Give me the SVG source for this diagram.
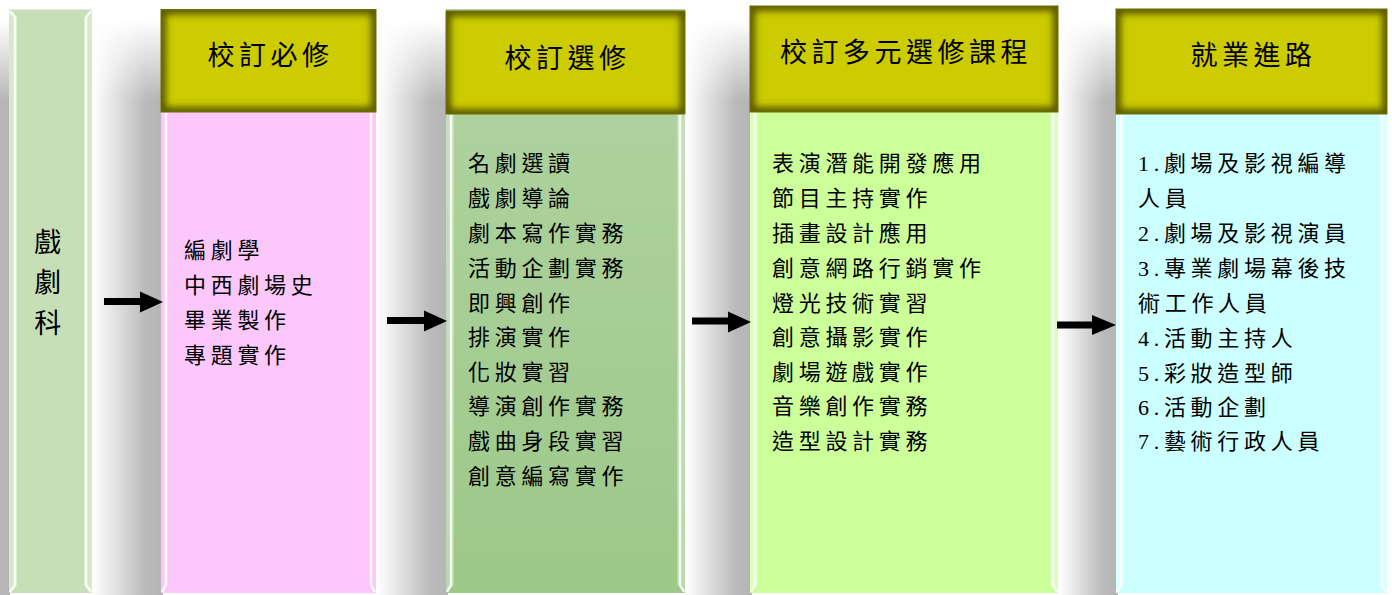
<svg xmlns="http://www.w3.org/2000/svg" width="1392" height="595" viewBox="0 0 1392 595">
<defs>
<linearGradient id="shadow" x1="0" y1="0" x2="1" y2="0">
<stop offset="0" stop-color="#ffffff"/>
<stop offset="0.75" stop-color="#bababa"/>
<stop offset="1" stop-color="#b5b5b5"/>
</linearGradient>
<linearGradient id="topfade" x1="0" y1="0" x2="0" y2="1">
<stop offset="0" stop-color="#ffffff" stop-opacity="1"/>
<stop offset="0.2" stop-color="#ffffff" stop-opacity="1"/>
<stop offset="1" stop-color="#ffffff" stop-opacity="0"/>
</linearGradient>
<linearGradient id="g3" x1="0" y1="0" x2="0" y2="1">
<stop offset="0" stop-color="#b2d4a2"/>
<stop offset="1" stop-color="#9cc889"/>
</linearGradient>
<filter id="blur" x="-20%" y="-30%" width="140%" height="160%">
<feGaussianBlur stdDeviation="3.5"/>
</filter>
<clipPath id="c2"><rect x="161" y="9.5" width="215" height="102.5"/></clipPath>
<clipPath id="c3"><rect x="446" y="11" width="239" height="103"/></clipPath>
<clipPath id="c4"><rect x="750" y="6" width="308" height="106"/></clipPath>
<clipPath id="c5"><rect x="1116" y="9" width="271" height="105"/></clipPath>
</defs>
<style>
.hdr{fill:#cccc00}
.hin{fill:none;stroke:#4a4a00;stroke-width:10;stroke-opacity:0.9}
.hline{fill:none;stroke:#6f6f00;stroke-width:1}
.ht{font-family:"Liberation Serif","Noto Sans CJK TC",serif;font-size:27px;letter-spacing:4.5px;fill:#000;text-anchor:middle}
.bt{font-family:"Liberation Serif","Noto Sans CJK TC",serif;font-size:22px;letter-spacing:4.7px;fill:#000}
.bev{fill:none;stroke:#ffffff;stroke-width:2.5;stroke-opacity:0.85}
.bevs{fill:#ffffff;fill-opacity:0.3}
.arr{stroke:#000;stroke-width:7;fill:none}
</style>
<rect width="1392" height="595" fill="#ffffff"/>
<g id="shadows">
<rect x="-60" y="20" width="70" height="575" fill="url(#shadow)"/>
<rect x="93" y="20" width="70" height="575" fill="url(#shadow)"/>
<rect x="378" y="20" width="70" height="575" fill="url(#shadow)"/>
<rect x="686" y="20" width="66" height="575" fill="url(#shadow)"/>
<rect x="1059" y="20" width="59" height="575" fill="url(#shadow)"/>
<rect x="0" y="0" width="1392" height="100" fill="url(#topfade)"/>
</g>
<g id="node-dept">
<rect x="9" y="9.5" width="83" height="583.5" fill="#c6dfb6"/>
<path class="bevs" d="M9,9.5 L17,17.5 L17,585 L9,593 Z M92,9.5 L84,17.5 L84,585 L92,593 Z"/>
<path class="bev" d="M15,17 V585 L10,592 M86,17 V585 L91,592 M15,17 L10,11 M86,17 L91,11"/>
<text class="ht" x="50" y="252">戲</text>
<text class="ht" x="50" y="292">劇</text>
<text class="ht" x="50" y="333">科</text>
</g>
<g id="node-required">
<rect x="161" y="112" width="215" height="481" fill="#fcc8fc"/>
<path class="bev" d="M166,113 V585 L162,592 M371,113 V585 L375,592"/>
<rect class="hdr" x="161" y="9.5" width="215" height="102.5"/>
<g clip-path="url(#c2)"><rect class="hin" x="161" y="9.5" width="215" height="102.5" filter="url(#blur)"/></g>
<rect class="hline" x="161" y="9.5" width="215" height="102.5"/>
<text class="ht" x="270.5" y="65">校訂必修</text>
<text class="bt" x="184" y="258">編劇學</text>
<text class="bt" x="184" y="293">中西劇場史</text>
<text class="bt" x="184" y="328">畢業製作</text>
<text class="bt" x="184" y="363">專題實作</text>
</g>
<g id="node-elective">
<rect x="446" y="9" width="239" height="584" fill="url(#g3)"/>
<path class="bevs" d="M446,114 L454,114 L454,585 L446,593 Z M685,114 L677,114 L677,585 L685,593 Z"/>
<path class="bev" d="M451,115 V585 L447,592 M680,115 V585 L684,592"/>
<rect class="hdr" x="446" y="11" width="239" height="103"/>
<g clip-path="url(#c3)"><rect class="hin" x="446" y="11" width="239" height="103" filter="url(#blur)"/></g>
<rect class="hline" x="446" y="11" width="239" height="103"/>
<text class="ht" x="567.5" y="68">校訂選修</text>
<text class="bt" x="468" y="171">名劇選讀</text>
<text class="bt" x="468" y="206">戲劇導論</text>
<text class="bt" x="468" y="241">劇本寫作實務</text>
<text class="bt" x="468" y="276">活動企劃實務</text>
<text class="bt" x="468" y="311">即興創作</text>
<text class="bt" x="468" y="345">排演實作</text>
<text class="bt" x="468" y="380">化妝實習</text>
<text class="bt" x="468" y="414">導演創作實務</text>
<text class="bt" x="468" y="449">戲曲身段實習</text>
<text class="bt" x="468" y="484">創意編寫實作</text>
</g>
<g id="node-multi">
<rect x="750" y="112" width="308" height="481" fill="#ccff99"/>
<path class="bevs" d="M750,112 L758,112 L758,585 L750,593 Z M1058,112 L1050,112 L1050,585 L1058,593 Z"/>
<path class="bev" d="M755,113 V585 L751,592 M1053,113 V585 L1057,592"/>
<rect class="hdr" x="750" y="6" width="308" height="106"/>
<g clip-path="url(#c4)"><rect class="hin" x="750" y="6" width="308" height="106" filter="url(#blur)"/></g>
<rect class="hline" x="750" y="6" width="308" height="106"/>
<text class="ht" x="906" y="62">校訂多元選修課程</text>
<text class="bt" x="772" y="171">表演潛能開發應用</text>
<text class="bt" x="772" y="206">節目主持實作</text>
<text class="bt" x="772" y="241">插畫設計應用</text>
<text class="bt" x="772" y="276">創意網路行銷實作</text>
<text class="bt" x="772" y="311">燈光技術實習</text>
<text class="bt" x="772" y="345">創意攝影實作</text>
<text class="bt" x="772" y="380">劇場遊戲實作</text>
<text class="bt" x="772" y="414">音樂創作實務</text>
<text class="bt" x="772" y="449">造型設計實務</text>
</g>
<g id="node-career">
<rect x="1116" y="114" width="271" height="479" fill="#ccffff"/>
<path class="bevs" d="M1116,114 L1124,114 L1124,585 L1116,593 Z M1387,114 L1379,114 L1379,585 L1387,593 Z"/>
<path class="bev" d="M1121,115 V585 L1117,592 M1382,115 V585 L1386,592"/>
<rect class="hdr" x="1116" y="9" width="271" height="105"/>
<g clip-path="url(#c5)"><rect class="hin" x="1116" y="9" width="271" height="105" filter="url(#blur)"/></g>
<rect class="hline" x="1116" y="9" width="271" height="105"/>
<text class="ht" x="1253.5" y="65">就業進路</text>
<text class="bt" x="1138" y="171">1.劇場及影視編導</text>
<text class="bt" x="1138" y="206">人員</text>
<text class="bt" x="1138" y="241">2.劇場及影視演員</text>
<text class="bt" x="1138" y="276">3.專業劇場幕後技</text>
<text class="bt" x="1138" y="311">術工作人員</text>
<text class="bt" x="1138" y="346">4.活動主持人</text>
<text class="bt" x="1138" y="381">5.彩妝造型師</text>
<text class="bt" x="1138" y="415">6.活動企劃</text>
<text class="bt" x="1138" y="449">7.藝術行政人員</text>
</g>
<g id="connectors">
<path class="arr" d="M104,301.5 H141"/>
<path d="M140,291.5 L163,302 L140,312.5 Z" fill="#000"/>
<path class="arr" d="M387,320.5 H425"/>
<path d="M424,310.5 L447,321 L424,331.5 Z" fill="#000"/>
<path class="arr" d="M692,321 H729"/>
<path d="M728,311.5 L751,322 L728,332.5 Z" fill="#000"/>
<path class="arr" d="M1057,325 H1093"/>
<path d="M1092,315 L1116,325 L1092,335 Z" fill="#000"/>
</g>
</svg>
